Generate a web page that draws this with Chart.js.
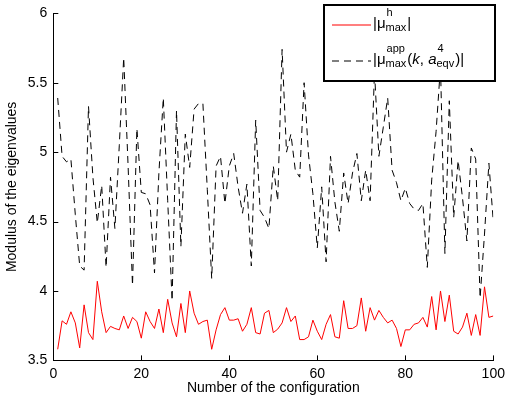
<!DOCTYPE html>
<html>
<head>
<meta charset="utf-8">
<script src="https://cdn.jsdelivr.net/npm/chart.js@4/dist/chart.umd.min.js"></script>
<style>
  body { margin: 0; background: #fff; }
  canvas { display: block; }
</style>
</head>
<body>
<canvas id="grafica" width="506" height="404"></canvas>
<script>
const configNums = [1,2,3,4,5,6,7,8,9,10,11,12,13,14,15,16,17,18,19,20,
  21,22,23,24,25,26,27,28,29,30,31,32,33,34,35,36,37,38,39,40,
  41,42,43,44,45,46,47,48,49,50,51,52,53,54,55,56,57,58,59,60,
  61,62,63,64,65,66,67,68,69,70,71,72,73,74,75,76,77,78,79,80,
  81,82,83,84,85,86,87,88,89,90,91,92,93,94,95,96,97,98,99,100];

// |mu^h_max|
const muH = [3.58,3.785,3.76,3.85,3.77,3.59,3.90,3.70,3.65,4.07,
  3.85,3.70,3.745,3.73,3.72,3.82,3.73,3.81,3.78,3.66,
  3.85,3.78,3.73,3.87,3.70,3.94,3.77,3.67,3.91,3.70,
  4.00,3.84,3.76,3.78,3.79,3.58,3.72,3.83,3.88,3.79,
  3.79,3.80,3.71,3.76,3.88,3.70,3.69,3.84,3.86,3.70,
  3.725,3.77,3.88,3.78,3.82,3.65,3.65,3.67,3.79,3.71,
  3.65,3.76,3.83,3.67,3.66,3.93,3.73,3.73,3.75,3.95,
  3.71,3.88,3.79,3.86,3.81,3.77,3.79,3.73,3.60,3.72,
  3.72,3.76,3.77,3.81,3.74,3.96,3.72,4.00,3.78,3.97,
  3.71,3.69,3.74,3.84,3.68,3.83,3.68,4.03,3.81,3.82];

// |mu^app_max(k, a^4_eqv)|
const muApp = [5.39,4.97,4.93,4.95,4.55,4.18,4.15,5.33,4.82,4.49,
  4.76,4.17,4.82,4.45,5.05,5.68,4.90,4.04,5.17,4.71,
  4.70,4.62,4.13,4.85,5.39,4.65,3.93,5.30,4.32,5.13,
  4.89,5.31,5.35,5.35,4.73,4.09,4.90,4.97,4.63,4.90,
  4.99,4.75,4.56,4.77,4.18,5.23,4.58,4.53,4.45,4.90,
  4.65,5.74,5.00,5.13,4.87,4.82,5.50,4.98,4.70,4.31,
  4.75,4.21,4.97,4.64,4.43,4.85,4.63,4.85,4.99,4.65,
  4.87,4.65,5.58,4.97,5.18,5.39,4.87,4.78,4.65,4.74,
  4.63,4.59,4.58,4.63,4.17,4.80,5.15,5.62,4.27,5.37,
  4.53,4.94,4.67,4.36,5.03,4.95,3.95,4.41,4.92,4.50];

const xTicks = [0, 20, 40, 60, 80, 100];
const yTicks = [3.5, 4, 4.5, 5, 5.5, 6];
const yTickLabels = ['3.5', '4', '4.5', '5', '5.5', '6'];

const FONT = '"Liberation Sans", Arial, Helvetica, sans-serif';

function toPoints(xs, ys) {
    return xs.map((x, i) => ({ x: x, y: ys[i] }));
}

// leyenda con sub/superindices (estilo tex de matlab)
const legendItems = [
    { color: 'rgb(255,0,0)', dash: [], parts: [
        { t: '|\u03bc' }, { sup: 'h', sub: 'max' }, { t: '|' }
    ]},
    { color: 'rgb(0,0,0)', dash: [7, 5], parts: [
        { t: '|\u03bc' }, { sup: 'app', sub: 'max' }, { t: '(' }, { t: 'k', it: true },
        { t: ', ' }, { t: 'a', it: true }, { sup: '4', sub: 'eqv' }, { t: ')|' }
    ]}
];

function drawRich(ctx, parts, x, y) {
    ctx.textBaseline = 'alphabetic';
    ctx.textAlign = 'left';
    parts.forEach(p => {
        if (p.t !== undefined) {
            ctx.font = (p.it ? 'italic ' : '') + '15px ' + FONT;
            ctx.fillText(p.t, x, y);
            x += ctx.measureText(p.t).width;
        } else {
            ctx.font = '11px ' + FONT;
            ctx.fillText(p.sup, x + 1, y - 12);
            ctx.fillText(p.sub, x, y + 3);
            x += Math.max(ctx.measureText(p.sup).width + 1, ctx.measureText(p.sub).width) + 1;
        }
    });
}

const matlabPlugin = {
    id: 'matlabStyle',
    afterDraw(chart) {
        const ctx = chart.ctx;
        const xs = chart.scales.x;
        const ys = chart.scales.y;
        const area = chart.chartArea;
        ctx.save();
        // ticks hacia dentro
        ctx.strokeStyle = '#000';
        ctx.lineWidth = 1;
        ctx.beginPath();
        xTicks.forEach(v => {
            const px = Math.round(xs.getPixelForValue(v)) + 0.5;
            ctx.moveTo(px, area.bottom);
            ctx.lineTo(px, area.bottom - 5);
        });
        yTicks.forEach(v => {
            const py = Math.round(ys.getPixelForValue(v)) + 0.5;
            ctx.moveTo(area.left, py);
            ctx.lineTo(area.left + 5, py);
        });
        ctx.stroke();

        // caja de leyenda
        const bx = 324, by = 5, bw = 171, bh = 76;
        ctx.fillStyle = '#fff';
        ctx.fillRect(bx, by, bw, bh);
        ctx.lineWidth = 2;
        ctx.strokeStyle = '#000';
        ctx.strokeRect(bx, by, bw, bh);

        legendItems.forEach((item, i) => {
            const ly = i === 0 ? 25 : 61;
            ctx.save();
            ctx.beginPath();
            ctx.lineWidth = 1.2;
            ctx.strokeStyle = item.color;
            ctx.setLineDash(item.dash);
            ctx.moveTo(332, ly);
            ctx.lineTo(371, ly);
            ctx.stroke();
            ctx.restore();
            ctx.fillStyle = '#000';
            drawRich(ctx, item.parts, 373, i === 0 ? 28 : 64);
        });
        ctx.restore();
    }
};

const ctx = document.getElementById('grafica').getContext('2d');

new Chart(ctx, {
    type: 'line',
    data: {
        datasets: [
            {
                label: '|\u03bc h max|',
                data: toPoints(configNums, muH),
                borderColor: '#ff0000',
                borderWidth: 1,
                pointRadius: 0,
                fill: false,
                tension: 0
            },
            {
                label: '|\u03bc app max(k, a 4 eqv)|',
                data: toPoints(configNums, muApp),
                borderColor: '#000000',
                borderWidth: 1,
                borderDash: [7, 5],
                pointRadius: 0,
                fill: false,
                tension: 0
            }
        ]
    },
    options: {
        responsive: false,
        animation: false,
        devicePixelRatio: 1,
        layout: { padding: { left: 0, right: 12.7, top: 13.3, bottom: 0 } },
        plugins: {
            legend: { display: false },
            tooltip: { enabled: false }
        },
        scales: {
            x: {
                type: 'linear',
                min: 0,
                max: 100,
                afterBuildTicks: s => { s.ticks = xTicks.map(v => ({ value: v })); },
                afterFit: s => { s.height = 43.6; s.paddingLeft = 0; s.paddingRight = 0; },
                grid: { display: false, drawTicks: false },
                border: { display: true, color: '#000', width: 1 },
                ticks: { color: '#000', padding: 5, maxRotation: 0, font: { family: FONT, size: 14 } },
                title: {
                    display: true,
                    text: 'Number of the configuration',
                    color: '#000',
                    padding: { top: 0, bottom: 7 },
                    font: { family: FONT, size: 14 }
                }
            },
            y: {
                type: 'linear',
                min: 3.5,
                max: 6,
                afterBuildTicks: s => { s.ticks = yTicks.map(v => ({ value: v })); },
                afterFit: s => { s.width = 53.3; s.paddingTop = 0; s.paddingBottom = 0; },
                grid: { display: false, drawTicks: false },
                border: { display: true, color: '#000', width: 1 },
                ticks: {
                    color: '#000',
                    padding: 6,
                    font: { family: FONT, size: 14 },
                    callback: (v, i) => yTickLabels[i]
                },
                title: {
                    display: true,
                    text: 'Modulus of the eigenvalues',
                    color: '#000',
                    padding: { top: 4, bottom: 0 },
                    font: { family: FONT, size: 14 }
                }
            }
        }
    },
    plugins: [matlabPlugin]
});
</script>
</body>
</html>
